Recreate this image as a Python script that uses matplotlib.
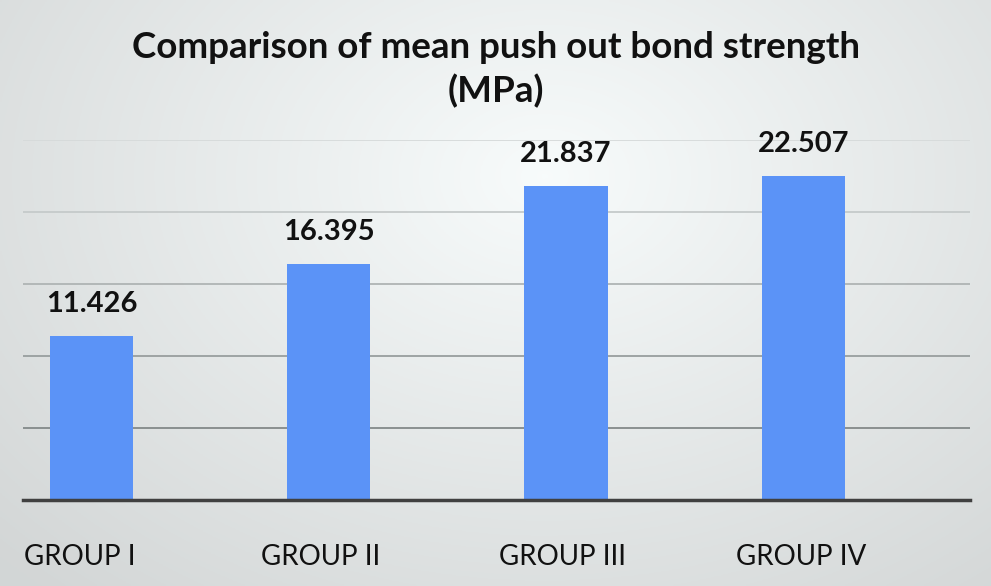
import numpy as np
import matplotlib
matplotlib.use("Agg")
import matplotlib.pyplot as plt

groups = ["GROUP I", "GROUP II", "GROUP III", "GROUP IV"]
strength = [11.426, 16.395, 21.837, 22.507]
labels = ["11.426", "16.395", "21.837", "22.507"]
grid_vals = [5, 10, 15, 20, 25]
grid_cols = ['#838989', '#989e9e', '#afb4b4', '#c5caca', '#d6dada']

plt.rcParams['font.family'] = ['Lato', 'DejaVu Sans']

fig = plt.figure(figsize=(9.91, 5.86), dpi=100)

# soft radial background
bg = fig.add_axes([0, 0, 1, 1], zorder=-10)
gx, gy = np.meshgrid(np.linspace(0, 1, 400), np.linspace(0, 1, 240))
r = np.sqrt(((gx - 0.55) / 1.05) ** 2 + ((gy - 0.3) / 1.3) ** 2)
shade = np.clip(0.985 - 0.2 * r, 0.84, 0.985)
rgb = np.dstack([shade * 0.985, shade, shade])
bg.imshow(rgb, extent=[0, 1, 0, 1], aspect='auto', origin='upper')
bg.axis('off')

ax = fig.add_axes([0.0232, 0.1468, 0.9556, 0.614])
ax.patch.set_alpha(0)
x = np.arange(len(groups))
ax.bar(x, strength, width=0.35, color='#5b93f7', zorder=3)

ax.set_xlim(-0.289, 3.703)
ax.set_ylim(0, 25)
ax.set_yticks([])
for g, c in zip(grid_vals, grid_cols):
    ax.axhline(g, color=c, linewidth=1.3, zorder=1)
ax.tick_params(left=False, labelleft=False, bottom=False)
for s in ['top', 'right', 'left']:
    ax.spines[s].set_visible(False)
ax.spines['bottom'].set_color('#404040')
ax.spines['bottom'].set_linewidth(2.5)
ax.spines['bottom'].set_zorder(4)

# category labels sit at the left of each slot
ax.set_xticks(x - 0.284)
ax.set_xticklabels(groups, fontsize=20, color='#111111', ha='left')
ax.tick_params(axis='x', pad=28)

for xi, v, t in zip(x, strength, labels):
    ax.text(xi, v + 1.3, t, ha='center', va='bottom', fontsize=21,
            fontweight='bold', color='#111111', clip_on=False)

fig.text(0.5, 0.901, "Comparison of mean push out bond strength",
         ha='center', va='baseline', fontsize=26.5, fontweight='bold',
         color='#111111')
fig.text(0.5, 0.826, "(MPa)",
         ha='center', va='baseline', fontsize=26.5, fontweight='bold',
         color='#111111')

fig.savefig("out.png", dpi=100)
